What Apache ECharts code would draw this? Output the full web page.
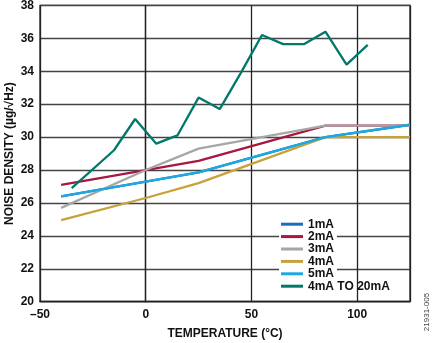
<!DOCTYPE html>
<html>
<head>
<meta charset="utf-8">
<script src="https://cdn.jsdelivr.net/npm/echarts@6/dist/echarts.min.js"></script>
<style>html,body{margin:0;padding:0;background:#fff}#c{width:435px;height:343px}</style>
</head>
<body>
<div id="c"></div>
<script>
// Temperatures (°C) for the per-current curves
const temps = [-40, 0, 25, 85, 125];
const ma1 = [26.4, 27.3, 27.85, 30.0, 30.75];
const ma2 = [27.1, 28.0, 28.55, 30.7, 30.7];
const ma3 = [25.7, 28.0, 29.3, 30.7, 30.7];
const ma4 = [24.95, 26.3, 27.2, 30.0, 30.0];
const ma5 = [26.4, 27.3, 27.85, 30.0, 30.75];
// 4mA to 20mA sweep
const tempsSweep = [-35, -15, -5, 5, 15, 25, 35, 45, 55, 65, 75, 85, 95, 105];
const sweep = [26.9, 29.2, 31.1, 29.6, 30.1, 32.4, 31.7, 33.9, 36.2, 35.65, 35.65, 36.4, 34.4, 35.6];
const seriesNames = ['1mA', '2mA', '3mA', '4mA', '5mA', '4mA TO 20mA'];
const colors = ['#1c6cb6', '#a8173f', '#a6a6a6', '#c9a13b', '#1ea8e0', '#00796b'];

const pair = (xs, ys) => xs.map((x, i) => [x, ys[i]]);
const datasets = [pair(temps, ma1), pair(temps, ma2), pair(temps, ma3), pair(temps, ma4), pair(temps, ma5), pair(tempsSweep, sweep)];

const font = 'Liberation Sans, Arial, sans-serif';
const chart = echarts.init(document.getElementById('c'));
chart.setOption({
  animation: false,
  color: colors,
  grid: {left: 40, right: 25, top: 5.4, bottom: 41.3, containLabel: false, outerBoundsMode: 'none',
    show: true, borderColor: '#222', borderWidth: 1.3, backgroundColor: 'transparent'},
  xAxis: {
    type: 'value', min: -50, max: 125, interval: 50,
    name: 'TEMPERATURE (°C)', nameLocation: 'middle', nameGap: 26, nameMoveOverlap: false,
    nameTextStyle: {fontFamily: font, fontWeight: 'bold', fontSize: 12, color: '#111'},
    axisLine: {show: true, lineStyle: {color: '#222', width: 1.3}},
    axisTick: {show: false},
    axisLabel: {showMaxLabel: false, margin: 7, fontFamily: font, fontWeight: 'bold', fontSize: 12, color: '#111',
      formatter: v => v < 0 ? '\u2013' + Math.abs(v) : String(v)},
    splitLine: {show: true, lineStyle: {color: '#222', width: 1.3}}
  },
  yAxis: {
    type: 'value', min: 20, max: 38, interval: 2,
    name: 'NOISE DENSITY (µg/√Hz)', nameLocation: 'middle', nameGap: 24.5, nameMoveOverlap: false,
    nameTextStyle: {fontFamily: font, fontWeight: 'bold', fontSize: 12, color: '#111'},
    axisLine: {show: true, lineStyle: {color: '#222', width: 1.3}},
    axisTick: {show: false},
    axisLabel: {margin: 6, fontFamily: font, fontWeight: 'bold', fontSize: 12, color: '#111'},
    splitLine: {show: true, lineStyle: {color: '#444', width: 1.3}}
  },
  legend: [
    {
      data: seriesNames.slice(0, 5), orient: 'vertical', left: 279, top: 216,
      backgroundColor: '#fff', padding: [2, 3, 2, 2], itemGap: 0,
      icon: 'rect', itemWidth: 22, itemHeight: 3,
      textStyle: {fontFamily: font, fontWeight: 'bold', fontSize: 12, color: '#111', lineHeight: 12.4}
    },
    {
      data: seriesNames.slice(5), orient: 'vertical', left: 279, top: 278,
      padding: [2, 2, 2, 2], itemGap: 0,
      icon: 'rect', itemWidth: 22, itemHeight: 3,
      textStyle: {fontFamily: font, fontWeight: 'bold', fontSize: 12, color: '#111', lineHeight: 12.4}
    }
  ],
  graphic: [{
    type: 'text', x: 427, y: 312, rotation: Math.PI / 2,
    style: {text: '21931-005', fontFamily: font, fontSize: 8, fill: '#444', align: 'center', verticalAlign: 'middle'}
  }],
  series: seriesNames.map((n, i) => ({
    name: n, type: 'line', data: datasets[i], showSymbol: false, symbol: 'none',
    lineStyle: {width: 2.3, color: colors[i]}, itemStyle: {color: colors[i]}, z: 3 + i
  }))
});
</script>
</body>
</html>
